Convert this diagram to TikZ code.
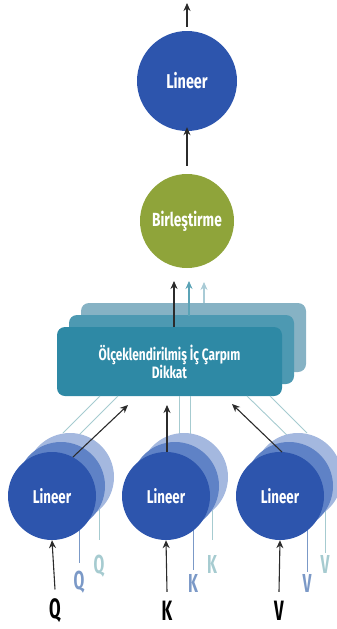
\documentclass[tikz,border=0pt]{standalone}
\usepackage{fontspec}
\setmainfont[FakeStretch=0.72]{Fira Sans}
\newfontfamily\condlbl[FakeStretch=0.6]{Fira Sans}
\usetikzlibrary{arrows.meta}
\definecolor{linblue}{HTML}{2D55AD}
\definecolor{linmid}{HTML}{5F82C6}
\definecolor{linback}{HTML}{A4B8DF}
\definecolor{mixgreen}{HTML}{8FA43A}
\definecolor{attfront}{HTML}{2E89A5}
\definecolor{attmid}{HTML}{4D99B2}
\definecolor{attback}{HTML}{86B2C4}
\definecolor{lblmid}{HTML}{7B99C7}
\definecolor{lbllight}{HTML}{A6CBD0}
\definecolor{arrteal}{HTML}{5BA3B6}
\definecolor{arrlight}{HTML}{A9CBD6}
\definecolor{arrdark}{HTML}{2B2B2B}
\tikzset{
  circ/.style={circle,inner sep=0pt,minimum size=#1},
  lbl/.style={font=\bfseries\fontsize{20}{22}\selectfont,text=white},
  lblsmall/.style={font=\bfseries\fontsize{18.5}{21}\selectfont,text=white},
  attbox/.style={rounded corners=8pt,minimum width=225pt,minimum height=69pt,inner sep=0pt},
  arr/.style={draw=arrdark,line width=1.1pt,-{Stealth[length=8pt,width=7pt]}},
  thinmid/.style={draw=lblmid,line width=0.9pt},
  thinlight/.style={draw=lbllight,line width=0.9pt},
  biglbl/.style={font=\condlbl\bfseries\fontsize{28}{30}\selectfont},
  collbl/.style={font=\condlbl\bfseries\fontsize{26}{28}\selectfont},
}
\begin{document}
\begin{tikzpicture}[x=1pt,y=-1pt]
\useasboundingbox (0,0) rectangle (337,629);
\clip (0,0) rectangle (337,629);
% ---------- top ----------
\node[circ=100pt,fill=linblue,lbl] (lin) at (187,81) {Lineer};
\coordinate (outtop) at (187,3);
\draw[arr] (lin.north) ++(0,-4) -- (outtop);
\node[circ=94pt,fill=mixgreen,lbl,font=\bfseries\fontsize{19}{21}\selectfont] (mix) at (187,221) {Birleştirme};
\draw[arr] (mix.north) ++(0,-8) -- ([yshift=4pt]lin.south);
% ---------- attention boxes ----------
\node[attbox,fill=attback] (attB) at (193.5,337.5) {};
\coordinate (tipL) at (204,282);
\draw[draw=arrlight,line width=1.1pt,-{Stealth[length=8pt,width=7pt]}] (204,303) -- (tipL);
\node[attbox,fill=attmid] (attM) at (181.5,349.5) {};
\coordinate (tipT) at (189,281);
\draw[draw=arrteal,line width=1.1pt,-{Stealth[length=8pt,width=7pt]}] (189,316) -- (tipT);
\node[attbox,fill=attfront,text=white,font=\bfseries\fontsize{16.5}{18}\selectfont,align=center] (att) at (169.5,361.5) {Ölçeklendirilmiş İç Çarpım\\Dikkat};
\coordinate (tipK) at (174,281);
\draw[arr] (174,327) -- (tipK);
% ---------- thin lines to boxes (behind circles) ----------
\draw[thinlight] (63,433) -- (100,396);
\draw[thinlight] (72,442) -- (118,396);
\draw[thinlight] (179,445) -- (179,396);
\draw[thinlight] (190,440) -- (190,396);
\draw[thinlight] (292,440) -- (247,396);
\draw[thinlight] (307,433) -- (270,396);
% ---------- bottom vertical lines (behind circles) ----------
\draw[thinlight] (99,477) -- (99,540);
\draw[thinlight] (212,477) -- (212,540);
\draw[thinlight] (325,477) -- (325,553);
% back circles
\node[circ=88pt,fill=linback] (b1) at (70,477) {};
\node[circ=88pt,fill=linback] (b2) at (184,477) {};
\node[circ=88pt,fill=linback] (b3) at (298,477) {};
\draw[thinmid] (79,486) -- (79,563);
\draw[thinmid] (193,486) -- (193,570);
\draw[thinmid] (307,486) -- (307,572);
% middle circles
\node[circ=88pt,fill=linmid] (m1) at (61,486) {};
\node[circ=88pt,fill=linmid] (m2) at (175,486) {};
\node[circ=88pt,fill=linmid] (m3) at (289,486) {};
% front circles
\node[circ=88pt,fill=linblue,lblsmall] (f1) at (52,496) {Lineer};
\node[circ=88pt,fill=linblue,lblsmall] (f2) at (166,496) {Lineer};
\node[circ=88pt,fill=linblue,lblsmall] (f3) at (280,496) {Lineer};
% arrows from circles to attention box
\coordinate (a1) at (128,405);
\coordinate (a2) at (167,405);
\coordinate (a3) at (232,404);
\draw[arr] (73,457) -- (a1);
\draw[arr] (167,452) -- (a2);
\draw[arr] (282,452) -- (a3);
% ---------- input labels ----------
\node[biglbl] (q) at (55,611) {Q};
\node[biglbl] (k) at (167,611) {K};
\node[biglbl] (v) at (279,611) {V};
\draw[arr] ([yshift=6pt]q.north) -- (f1.south);
\draw[arr] ([yshift=6pt]k.north) -- (f2.south);
\draw[arr] ([yshift=6pt]v.north) -- (f3.south);
\node[collbl,text=lblmid] (q2) at (79,582) {Q};
\node[collbl,text=lblmid] (k2) at (193,583) {K};
\node[collbl,text=lblmid] (v2) at (307,583) {V};
\node[collbl,text=lbllight] (q3) at (99,566) {Q};
\node[collbl,text=lbllight] (k3) at (212,564) {K};
\node[collbl,text=lbllight] (v3) at (325,564) {V};
\end{tikzpicture}
\end{document}
